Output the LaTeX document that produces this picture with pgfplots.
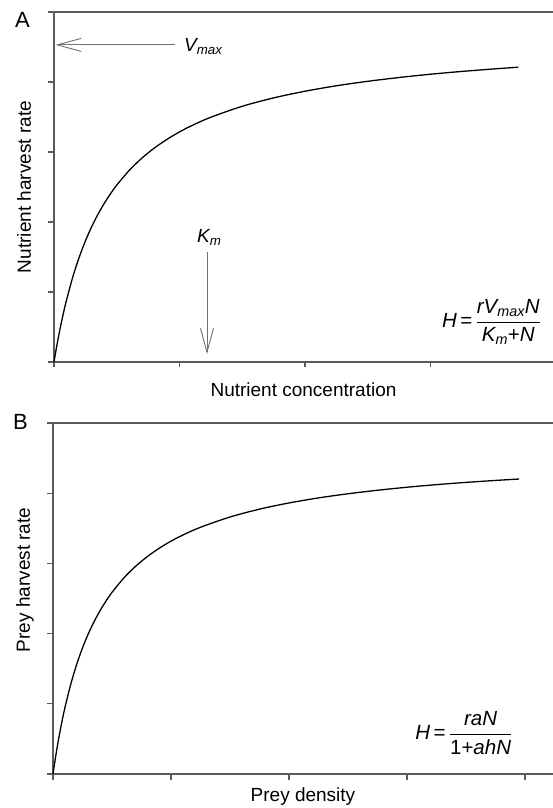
\documentclass[border=0pt]{standalone}
\usepackage{fontspec}
\setmainfont{Liberation Sans}
\usepackage{amsmath}
\usepackage{pgfplots}
\pgfplotsset{compat=1.18}
\usetikzlibrary{arrows.meta}
\definecolor{axgray}{HTML}{5A5A5A}
\definecolor{arrgray}{HTML}{707070}
\begin{document}
\fontsize{19bp}{22bp}\selectfont
\begin{tikzpicture}[x=1bp,y=1bp]
\pgfplotsset{
  myax/.style={
    scale only axis, anchor=south west, clip=false,
    axis lines*=left,
    axis line style={axgray, line width=1.3bp},
    every tick/.style={axgray, line width=1.1bp},
    tick align=outside, major tick length=5.5bp,
    xticklabels={}, yticklabels={},
    ymin=0, ymax=5, ytick={0,1,2,3,4,5},
  }
}
% Panel A
\begin{axis}[myax, at={(54bp,446bp)}, width=499bp, height=350bp,
  xmin=0, xmax=3.976, xtick={0,1,2,3}]
\addplot[black, line width=1.3bp, smooth] coordinates {
(0,0) (0.025,0.258) (0.05,0.490) (0.075,0.698) (0.1,0.887) (0.15,1.216)
(0.2,1.492) (0.25,1.728) (0.3,1.932) (0.35,2.109) (0.4,2.265) (0.45,2.403)
(0.5,2.527) (0.6,2.738) (0.7,2.912) (0.8,3.057) (0.9,3.180) (1.0,3.287)
(1.1,3.379) (1.25,3.497) (1.5,3.653) (1.75,3.773) (2.0,3.868) (2.25,3.946)
(2.5,4.010) (2.75,4.064) (3.0,4.111) (3.25,4.151) (3.5,4.186) (3.70,4.211)};
\draw[axgray, line width=1.3bp] (rel axis cs:0,1) -- (rel axis cs:1,1);
\draw[arrgray, line width=0.9bp, -{Straight Barb[length=24bp,width=13bp]}]
  (axis cs:0.964,4.53) -- (axis cs:0.012,4.53);
\node[anchor=base west, inner sep=0pt] at (axis cs:1.036,4.43) {$\textit{V}_{\textit{max}}$};
\draw[arrgray, line width=0.9bp, -{Straight Barb[length=24bp,width=13bp]}]
  (axis cs:1.219,1.571) -- (axis cs:1.219,0.114);
\node[anchor=base west, inner sep=0pt] at (axis cs:1.139,1.714) {$\textit{K}_{\textit{m}}$};
\node[anchor=west, inner sep=0pt, font=\fontsize{20.5bp}{24bp}\selectfont] at (axis cs:3.09,0.571)
  {$\textit{H}\,\text{=}\,\dfrac{\textit{rV}_{\textit{max}}\textit{N}}{\textit{K}_{\textit{m}}\text{+}\textit{N}}$};
\node[anchor=base, inner sep=0pt] at (rel axis cs:0.5,0) [yshift=-35bp] {Nutrient concentration};
\node[xshift=-30bp, anchor=center, rotate=90, inner sep=0pt] at (rel axis cs:0,0.5) {Nutrient harvest rate};
\end{axis}
% Panel B
\begin{axis}[myax, at={(53bp,34bp)}, width=500bp, height=351bp,
  xmin=0, xmax=4.237, xtick={0,1,2,3,4}]
\addplot[black, line width=1.3bp, smooth] coordinates {
(0,0) (0.025,0.276) (0.05,0.521) (0.075,0.740) (0.1,0.937) (0.15,1.276)
(0.2,1.558) (0.25,1.796) (0.3,2.000) (0.35,2.176) (0.4,2.330) (0.45,2.466)
(0.5,2.587) (0.6,2.792) (0.7,2.959) (0.8,3.098) (0.9,3.216) (1.0,3.317)
(1.1,3.404) (1.25,3.515) (1.5,3.661) (1.75,3.773) (2.0,3.861) (2.25,3.933)
(2.5,3.992) (2.75,4.042) (3.0,4.085) (3.25,4.122) (3.5,4.154) (3.75,4.182) (3.95,4.202)};
\draw[axgray, line width=1.3bp] (rel axis cs:0,1) -- (rel axis cs:1,1);
\node[anchor=west, inner sep=0pt, font=\fontsize{20.5bp}{24bp}\selectfont] at (axis cs:3.068,0.584)
  {$\textit{H}\,\text{=}\,\dfrac{\textit{raN}}{\text{1+}\textit{ahN}}$};
\node[anchor=base, inner sep=0pt] at (rel axis cs:0.5,0) [yshift=-28bp] {Prey density};
\node[xshift=-28bp, anchor=center, rotate=90, inner sep=0pt] at (rel axis cs:0,0.553) {Prey harvest rate};
\end{axis}
\node[anchor=base west, inner sep=0pt, font=\fontsize{22bp}{24bp}\selectfont] at (15bp,780bp) {A};
\node[anchor=base west, inner sep=0pt, font=\fontsize{22bp}{24bp}\selectfont] at (13bp,378bp) {B};
\pgfresetboundingbox
\useasboundingbox (0bp,0bp) rectangle (553bp,808bp);
\end{tikzpicture}
\end{document}
